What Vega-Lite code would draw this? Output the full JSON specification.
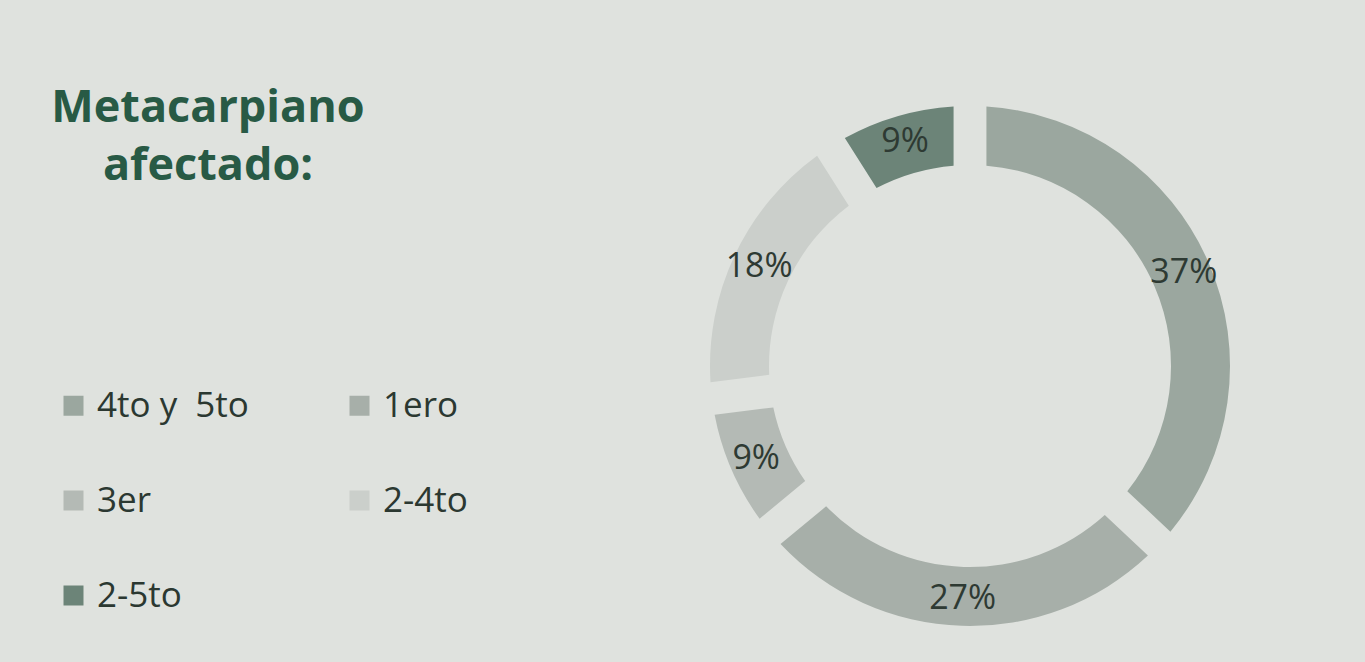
{
  "$schema": "https://vega.github.io/schema/vega-lite/v6.json",
  "width": 560,
  "height": 560,
  "autosize": {"type": "none"},
  "padding": {"left": 690, "top": 86, "right": 115, "bottom": 16},
  "background": "#dfe2de",
  "config": {"view": {"stroke": null}},
  "title": {
    "text": ["Metacarpiano", "afectado:"],
    "orient": "top",
    "anchor": "start",
    "frame": "group",
    "align": "center",
    "baseline": "top",
    "offset": 0,
    "dx": -482,
    "dy": 103,
    "font": "Open Sans",
    "fontSize": 45,
    "fontWeight": "bold",
    "lineHeight": 58,
    "color": "#285a45"
  },
  "data": {
    "values": [
      {"categoria": "4to y\u00a0 5to", "pct": 37, "ord": 1, "etiqueta": "37%"},
      {"categoria": "1ero", "pct": 27, "ord": 2, "etiqueta": "27%"},
      {"categoria": "3er", "pct": 9, "ord": 3, "etiqueta": "9%"},
      {"categoria": "2-4to", "pct": 18, "ord": 4, "etiqueta": "18%"},
      {"categoria": "2-5to", "pct": 9, "ord": 5, "etiqueta": "9%"}
    ]
  },
  "encoding": {
    "theta": {"field": "pct", "type": "quantitative", "stack": true},
    "order": {"field": "ord", "type": "quantitative", "sort": "ascending"}
  },
  "layer": [
    {
      "mark": {"type": "arc", "outerRadius": 260, "innerRadius": 201, "padAngle": 0.1},
      "encoding": {
        "color": {
          "field": "categoria",
          "type": "nominal",
          "sort": ["4to y\u00a0 5to", "1ero", "3er", "2-4to", "2-5to"],
          "scale": {
            "domain": ["4to y\u00a0 5to", "1ero", "3er", "2-4to", "2-5to"],
            "range": ["#9ba79f", "#a7afa9", "#b4bab5", "#cbcfcb", "#6c8478"]
          },
          "legend": {
            "orient": "none",
            "legendX": -634,
            "legendY": 302,
            "title": null,
            "columns": 2,
            "direction": "horizontal",
            "symbolType": "square",
            "symbolSize": 400,
            "symbolStrokeWidth": 0,
            "labelFont": "Open Sans",
            "labelFontSize": 35,
            "labelColor": "#2b3831",
            "labelOffset": 6,
            "labelLimit": 400,
            "rowPadding": 59,
            "columnPadding": 93,
            "padding": 0
          }
        }
      }
    },
    {
      "mark": {"type": "text", "radius": 233, "font": "Open Sans", "fontSize": 34, "color": "#2e3a33"},
      "encoding": {
        "text": {"field": "etiqueta", "type": "nominal"}
      }
    }
  ]
}
